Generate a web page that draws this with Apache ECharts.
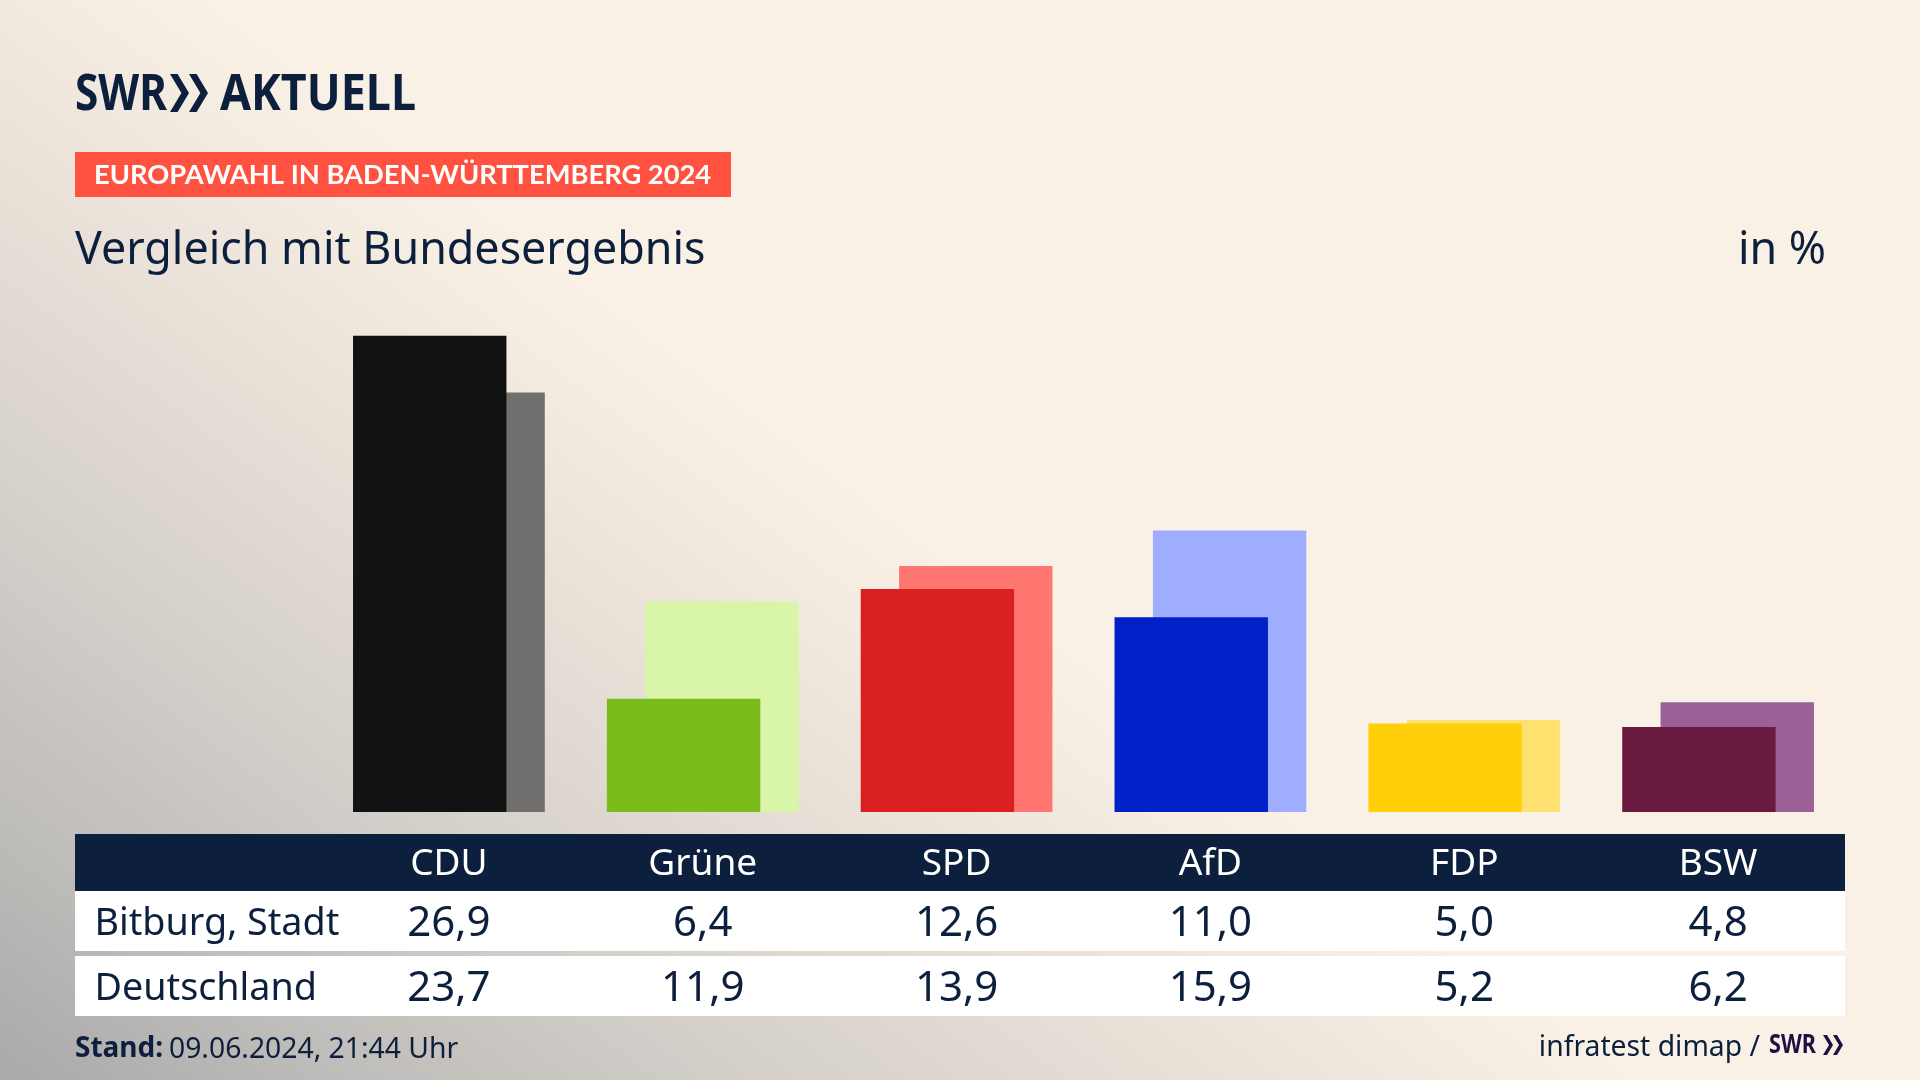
<!DOCTYPE html>
<html>
<head>
<meta charset="utf-8" />
<title>Europawahl in Baden-Württemberg 2024</title>
<script src="https://cdn.jsdelivr.net/npm/echarts@6/dist/echarts.min.js"></script>
<style>
  html, body { margin: 0; padding: 0; background: #faf1e6; }
  #main {
    width: 1920px; height: 1080px;
    background: linear-gradient(37deg, #a9a9a9 0%, #bebcb9 10%, #d6d1cb 24%, #e9e1d8 36%, #faf1e6 49%);
  }
</style>
</head>
<body>
<div id="main"></div>
<script type="text/javascript">
var parties = ['CDU', 'Grüne', 'SPD', 'AfD', 'FDP', 'BSW'];
var bitburg = [26.9, 6.4, 12.6, 11.0, 5.0, 4.8];
var deutschland = [23.7, 11.9, 13.9, 15.9, 5.2, 6.2];
var frontColors = ['#121212', '#7abd1a', '#d91f1f', '#0020c8', '#ffcf0a', '#6b1a3f'];
var backColors = ['#72706e', '#d8f5a9', '#ff7570', '#9fadff', '#ffe16f', '#9b6096'];

var navy = '#0c1f3d';
var fontName = '"Noto Sans"';

// Komma statt Punkt
function deNum(v) { return v.toFixed(1).replace('.', ','); }

function colored(values, colors) {
    return values.map(function (v, i) {
        return { value: v, itemStyle: { color: colors[i] } };
    });
}

function text(str, x, y, size, opts) {
    opts = opts || {};
    return {
        type: 'text', z: 5,
        x: x, y: y,
        scaleX: opts.scaleX || 1,
        style: {
            text: str, x: 0, y: 0,
            fill: opts.fill || navy,
            font: (opts.weight || 'normal') + ' ' + size + 'px ' + (opts.family || fontName),
            textAlign: opts.align || 'left',
            textVerticalAlign: 'middle'
        }
    };
}

function rect(x, y, w, h, fill) {
    return { type: 'rect', z: -1, shape: { x: x, y: y, width: w, height: h }, style: { fill: fill } };
}

// SWR Doppelpfeil
function chevrons(x, y, w, h, fill) {
    return [0, 1].map(function (k) {
        var x0 = x + k * w;
        return {
            type: 'polygon', z: 5,
            shape: { points: [
                [x0, y], [x0 + w * 0.4, y], [x0 + w, y + h / 2],
                [x0 + w * 0.4, y + h], [x0, y + h], [x0 + w * 0.6, y + h / 2]
            ] },
            style: { fill: fill }
        };
    });
}

function rowAxis(labels, margin, color, size) {
    return {
        type: 'category',
        gridIndex: 0,
        position: 'bottom',
        data: labels,
        axisLine: { show: false },
        axisTick: { show: false },
        axisLabel: {
            interval: 0, margin: margin, color: color,
            fontFamily: 'Noto Sans', fontSize: size, verticalAlign: 'middle'
        }
    };
}

var myChart = echarts.init(document.getElementById('main'));
var option = {
    animation: false,
    grid: { left: 322, right: 75, top: 281, height: 531 },
    xAxis: [
        rowAxis(parties, 52, '#ffffff', 37),
        rowAxis(bitburg.map(deNum), 112, navy, 42),
        rowAxis(deutschland.map(deNum), 177, navy, 42)
    ],
    yAxis: { type: 'value', min: 0, max: 30, show: false },
    series: [
        {
            name: 'Bitburg, Stadt', type: 'bar', xAxisIndex: 0, z: 3,
            barWidth: 153.4, barGap: '-75%',
            data: colored(bitburg, frontColors)
        },
        {
            name: 'Deutschland', type: 'bar', xAxisIndex: 0, z: 2,
            barWidth: 153.4,
            data: colored(deutschland, backColors)
        }
    ],
    graphic: [
        text('SWR', 75, 95, 51, { weight: 'bold', scaleX: 0.83 }),
        text('AKTUELL', 220, 95, 51, { weight: 'bold', scaleX: 0.88 }),
        rect(75, 152, 656, 45, '#ff5240'),
        text('EUROPAWAHL IN BADEN-WÜRTTEMBERG 2024', 94, 175, 27.3, { fill: '#ffffff', weight: 'bold', family: 'Lato' }),
        text('Vergleich mit Bundesergebnis', 75, 251.5, 44.8),
        text('in %', 1826, 251.5, 44.8, { align: 'right' }),
        rect(75, 834, 1770, 57, navy),
        rect(75, 891, 1770, 60, '#ffffff'),
        rect(75, 956, 1770, 60, '#ffffff'),
        text('Bitburg, Stadt', 94.5, 924.5, 37.7),
        text('Deutschland', 94.5, 989, 37.7),
        text('Stand:', 75, 1049.5, 28, { weight: 'bold' }),
        text('09.06.2024, 21:44 Uhr', 169, 1049.5, 28.3),
        text('infratest dimap /', 1760, 1048, 28.3, { align: 'right' }),
        text('SWR', 1769, 1046, 26, { weight: 'bold', fill: '#1f0f45', scaleX: 0.83 })
    ].concat(chevrons(170, 74, 19, 38, navy), chevrons(1823, 1035, 10, 20, '#1f0f45'))
};
myChart.setOption(option);
</script>
</body>
</html>
